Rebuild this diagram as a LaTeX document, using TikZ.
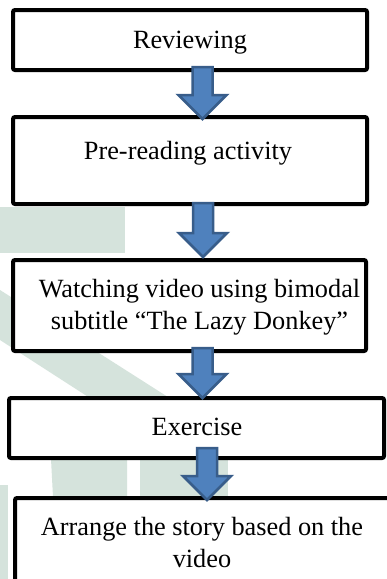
\documentclass[tikz,border=0pt]{standalone}
\usepackage{fontspec}
\setmainfont{Liberation Serif}
\usetikzlibrary{calc}

\definecolor{wmgreen}{RGB}{213,227,220}
\definecolor{arrowfill}{RGB}{79,129,189}
\definecolor{arrowline}{RGB}{56,93,138}

\tikzset{
  stepbox/.style={draw=black, fill=white, line width=4pt, rounded corners=2pt,
    rectangle, inner sep=0pt},
  steptext/.style={inner sep=0pt, align=center,
    font=\fontsize{26.3pt}{32pt}\selectfont},
  flowarrowstyle/.style={draw=arrowline, fill=arrowfill, line width=2.5pt,
    line join=miter},
  watermark/.style={fill=wmgreen, draw=none}
}

% block arrow from the bottom of #1 to the top of #2, centred at x=#3;
% #4 shifts the shaft top, #5 shifts the tip (in pt, positive = up)
\newcommand\flowarrow[5]{%
  \path[flowarrowstyle] let \p1=(#1.south), \p2=(#2.north) in
    ({#3pt-10pt},{\y1+(#4pt)}) -- ({#3pt+10pt},{\y1+(#4pt)})
    -- ({#3pt+10pt},{\y2+(#5pt)+24pt}) -- ({#3pt+24pt},{\y2+(#5pt)+24pt})
    -- ({#3pt},{\y2+(#5pt)})
    -- ({#3pt-24pt},{\y2+(#5pt)+24pt}) -- ({#3pt-10pt},{\y2+(#5pt)+24pt})
    -- cycle;}

\begin{document}
\begin{tikzpicture}[x=1pt,y=-1pt]
  \useasboundingbox (0,0) rectangle (387,579);
  \clip (0,0) rectangle (387,579);
  \fill[white] (0,0) rectangle (387,579);

  % faint background emblem
  \fill[watermark] (0,207) rectangle (125,253);
  \fill[watermark] (0,290) -- (204,420) -- (124,420) -- (0,340) -- cycle;
  \fill[watermark] (50,440) -- (127,440) -- (127,497) -- (53,497) -- cycle;
  \fill[watermark] (140,440) rectangle (228,497);
  \fill[watermark] (0,485) rectangle (8,579);

  % step boxes
  \node[stepbox, minimum width=354pt, minimum height=60pt] (b1) at (190,40) {};
  \node[stepbox, minimum width=354pt, minimum height=87pt] (b2) at (190,160.5) {};
  \node[stepbox, minimum width=353pt, minimum height=91pt] (b3) at (189.5,305.5) {};
  \node[stepbox, minimum width=375pt, minimum height=60pt] (b4) at (196.5,428) {};
  \node[stepbox, minimum width=380pt, minimum height=102pt] (b5) at (205,549) {};

  % step texts
  \node[steptext, anchor=base] (t1) at (190,48) {Reviewing};
  \node[steptext, anchor=base] (t2) at (188,159) {Pre-reading activity};
  \node[steptext, anchor=north] (t3) at (199.5,279)
    {Watching video using bimodal\\subtitle “The Lazy Donkey”};
  \node[steptext, anchor=base] (t4) at (197,435) {Exercise};
  \node[steptext, anchor=north] (t5) at (202,517)
    {Arrange the story based on the\\video};

  % block arrows between the steps
  \flowarrow{b1}{b2}{202.5}{5}{-4}
  \flowarrow{b2}{b3}{203}{3}{1}
  \flowarrow{b3}{b4}{202.5}{5}{-2}
  \flowarrow{b4}{b5}{207}{12}{-4}
\end{tikzpicture}
\end{document}
